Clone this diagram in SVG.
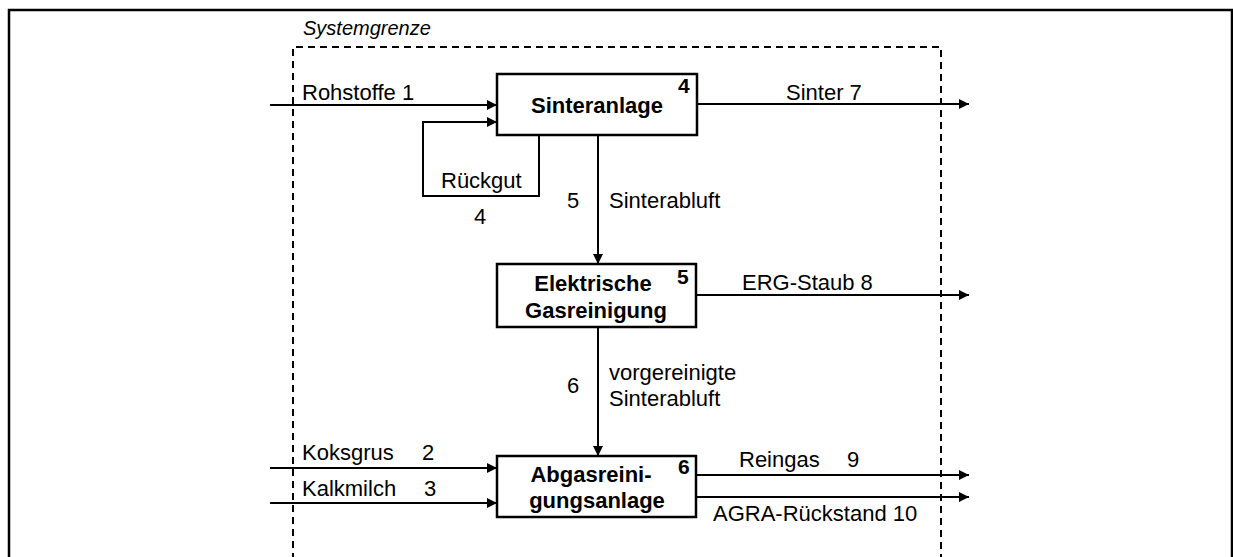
<svg xmlns="http://www.w3.org/2000/svg" width="1233" height="557" viewBox="0 0 1233 557">
  <style>
    .t { font-family: "Liberation Sans", Arial, sans-serif; font-size: 22px; fill: #000; }
    .b { font-weight: bold; }
    .n { font-size: 21px; }
    .i { font-style: italic; font-size: 20px; }
    .box { fill: #fff; stroke: #000; stroke-width: 2.5; }
    .ln { fill: none; stroke: #000; stroke-width: 2; }
  </style>
  <defs>
    <marker id="arr" viewBox="0 0 10 10" refX="10" refY="5" markerWidth="10" markerHeight="10" markerUnits="userSpaceOnUse" orient="auto">
      <path d="M0,0 L10,5 L0,10 z" fill="#000"/>
    </marker>
  </defs>
  <rect width="1233" height="557" fill="#fff"/>

  <!-- outer frame -->
  <path d="M9,557 V10 H1232 V557" fill="none" stroke="#000" stroke-width="2.5"/>

  <!-- system boundary -->
  <g id="systemgrenze">
    <path d="M293,560 V47 H941 V560" fill="none" stroke="#000" stroke-width="2" stroke-dasharray="7,5"/>
    <text class="t i" x="303" y="35">Systemgrenze</text>
  </g>

  <!-- connectors -->
  <g id="connectors">
    <line class="ln" x1="270" y1="105" x2="497" y2="105" marker-end="url(#arr)"/>
    <path class="ln" d="M539,135 V196 H423 V122 H497" marker-end="url(#arr)"/>
    <line class="ln" x1="697" y1="104" x2="969" y2="104" marker-end="url(#arr)"/>
    <line class="ln" x1="598" y1="135" x2="598" y2="264" marker-end="url(#arr)"/>
    <line class="ln" x1="696" y1="295" x2="969" y2="295" marker-end="url(#arr)"/>
    <line class="ln" x1="598" y1="327" x2="598" y2="456" marker-end="url(#arr)"/>
    <line class="ln" x1="270" y1="468" x2="497" y2="468" marker-end="url(#arr)"/>
    <line class="ln" x1="270" y1="503" x2="497" y2="503" marker-end="url(#arr)"/>
    <line class="ln" x1="696" y1="475" x2="969" y2="475" marker-end="url(#arr)"/>
    <line class="ln" x1="696" y1="497" x2="969" y2="497" marker-end="url(#arr)"/>

    <text class="t" x="302" y="100">Rohstoffe 1</text>
    <text class="t" x="441" y="188">Rückgut</text>
    <text class="t" x="474" y="224">4</text>
    <text class="t" x="786" y="100">Sinter 7</text>
    <text class="t" x="567" y="208">5</text>
    <text class="t" x="609" y="208">Sinterabluft</text>
    <text class="t" x="742" y="290">ERG-Staub 8</text>
    <text class="t" x="567" y="393">6</text>
    <text class="t" x="609" y="380">vorgereinigte</text>
    <text class="t" x="609" y="406">Sinterabluft</text>
    <text class="t" x="302" y="460">Koksgrus</text>
    <text class="t" x="422" y="460">2</text>
    <text class="t" x="302" y="496">Kalkmilch</text>
    <text class="t" x="424" y="496">3</text>
    <text class="t" x="739" y="467">Reingas</text>
    <text class="t" x="847" y="467">9</text>
    <text class="t" x="713" y="521">AGRA-Rückstand 10</text>
  </g>

  <!-- process units -->
  <g id="sinteranlage">
    <rect class="box" x="497" y="74" width="200" height="61"/>
    <text class="t b" x="597" y="113" text-anchor="middle">Sinteranlage</text>
    <text class="t b n" x="678" y="93">4</text>
  </g>

  <g id="erg">
    <rect class="box" x="497" y="264" width="199" height="63"/>
    <text class="t b" x="593" y="291" text-anchor="middle">Elektrische</text>
    <text class="t b" x="596" y="318" text-anchor="middle">Gasreinigung</text>
    <text class="t b n" x="677" y="284">5</text>
  </g>

  <g id="agra">
    <rect class="box" x="497" y="456" width="199" height="61"/>
    <text class="t b" x="591" y="482" text-anchor="middle">Abgasreini-</text>
    <text class="t b" x="597" y="508" text-anchor="middle">gungsanlage</text>
    <text class="t b n" x="678" y="474">6</text>
  </g>
</svg>
